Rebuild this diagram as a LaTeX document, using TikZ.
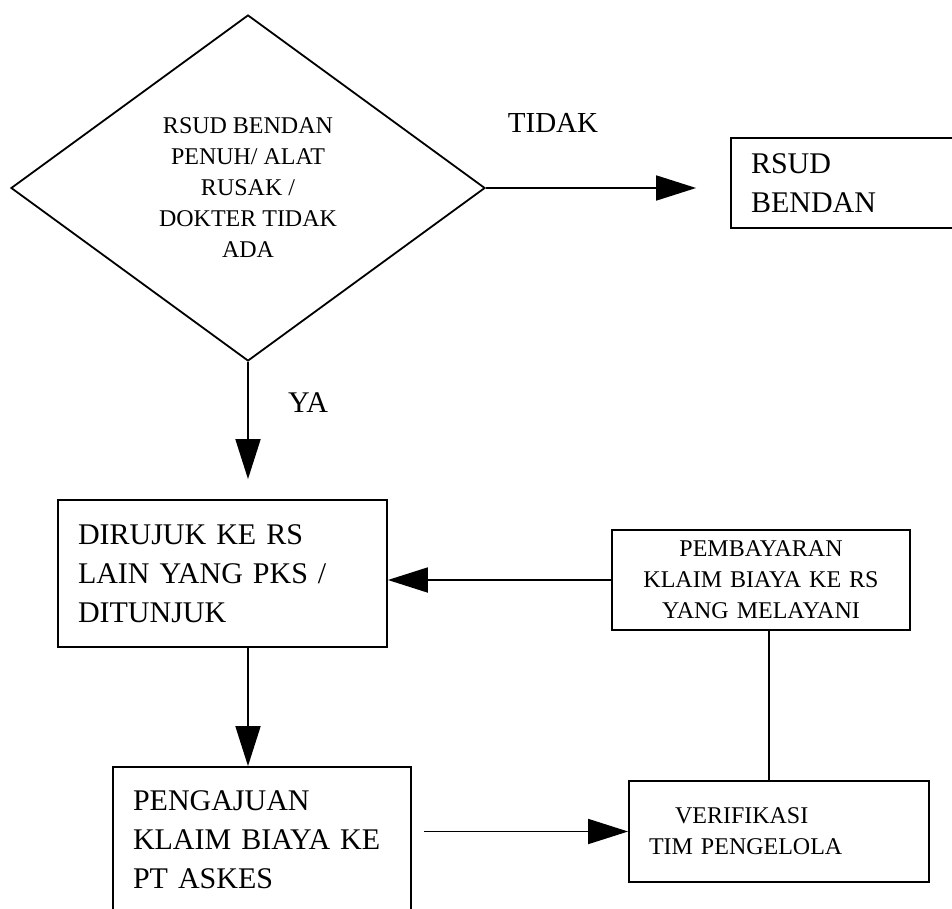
\documentclass[tikz,border=0pt]{standalone}
\usepackage{fontspec}
\setmainfont{Liberation Serif}
\usetikzlibrary{shapes.geometric,arrows.meta}

\begin{document}
\begin{tikzpicture}[
    x=0.5pt, y=-0.5pt,
    every node/.style={
        inner sep=0pt,
        align=center
    },
    decision/.style={
        diamond, draw, line width=0.9pt,
        minimum width=237pt, minimum height=173pt,
        font=\fontsize{12}{15.5}\selectfont
    },
    process/.style={
        rectangle, draw, line width=0.9pt,
        inner xsep=10pt,
        font=\fontsize{15}{19.5}\selectfont
    },
    small/.style={font=\fontsize{12}{15.5}\selectfont},
    flow/.style={line width=0.9pt, -{Triangle[length=20pt,width=12.5pt]}},
    link/.style={line width=0.9pt}
]
\clip (0,0) rectangle (952,909);
% keputusan
\node[decision] (cek) at (248,188)
    {RSUD BENDAN\\PENUH/ ALAT\\RUSAK /\\DOKTER TIDAK\\ADA};
\node[font=\fontsize{14.5}{17}\selectfont] (tidak) at (553,123) {TIDAK};
\node[font=\fontsize{15}{18}\selectfont] (ya) at (308,403) {YA};
% kotak proses
\node[process, align=left, text width=120pt, minimum height=45pt]
    (bendan) at (871,183) {RSUD\\BENDAN};
\node[process, align=left, text width=144.5pt, minimum height=73.5pt]
    (rujuk) at (222.5,573.5) {DIRUJUK KE RS\\LAIN YANG PKS /\\DITUNJUK};
\node[process, small, text width=129pt, minimum height=50pt]
    (bayar) at (761,580) {PEMBAYARAN\\KLAIM BIAYA KE RS\\YANG MELAYANI};
\node[process, align=left, text width=129pt, minimum height=72.5pt]
    (ajuan) at (262,839.5) {PENGAJUAN\\KLAIM BIAYA KE\\PT ASKES};
\node[process, small, align=left, text width=130pt, minimum height=50.5pt]
    (verif) at (779,831.5) {\hspace*{13pt}VERIFIKASI\\TIM PENGELOLA};
% alur
\draw[flow, shorten >=17pt] (cek.east) -- (cek.east -| bendan.west);
\draw[flow, shorten >=10pt] (cek.south) -- (cek.south |- rujuk.north);
\draw[flow] (bayar.west) -- (bayar.west -| rujuk.east);
\draw[flow] (cek.south |- rujuk.south) -- (cek.south |- ajuan.north);
\draw[flow, shorten <=6pt] (verif.west -| ajuan.east) -- (verif.west);
\draw[link] ([xshift=4pt]bayar.south) -- ([xshift=4pt]bayar.south |- verif.north);
\end{tikzpicture}
\end{document}
